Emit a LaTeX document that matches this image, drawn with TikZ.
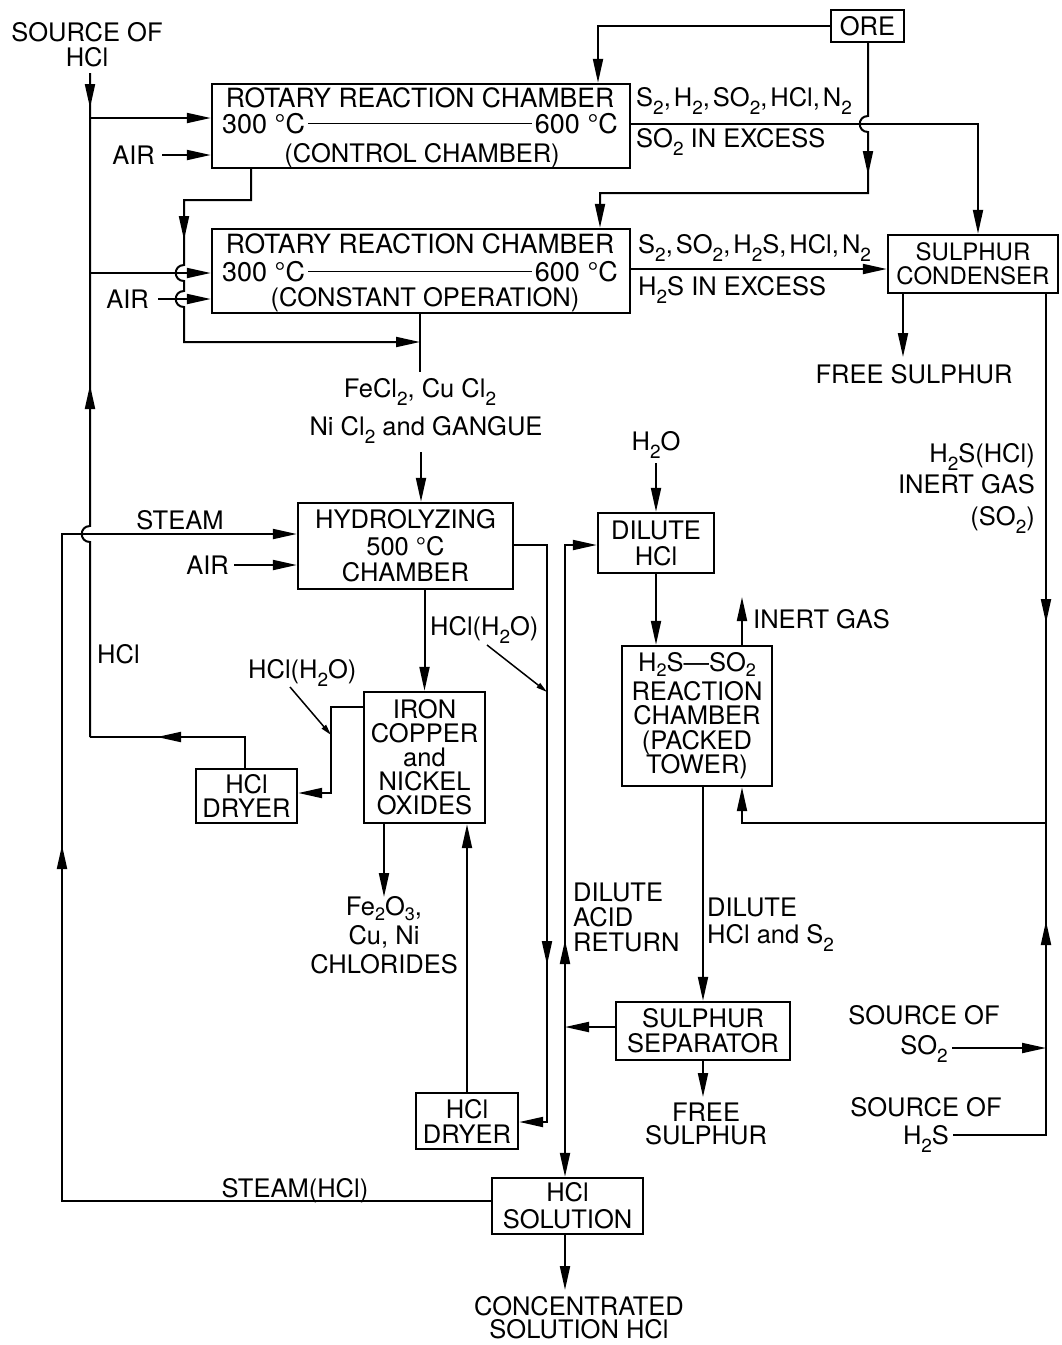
\documentclass[tikz,border=0pt]{standalone}
\usepackage{fontspec}
\setmainfont{TeX Gyre Heros}
\usetikzlibrary{arrows.meta}
\newcommand\lo[1]{\raisebox{-0.32em}{\fontsize{19}{19}\selectfont #1}}
\newcommand\los[1]{\raisebox{-0.2em}{\fontsize{18}{18}\selectfont #1}}
\newcommand\lbl{\fontsize{25.5}{25}\selectfont}
\newcommand\cm{,\kern3pt}
\begin{document}
\begin{tikzpicture}[x=1pt,y=-1pt,
  every node/.style={inner sep=0pt, font=\lbl},
  box/.style={draw, line width=2.4pt, align=center},
  ln/.style={line width=2pt},
  arr/.style={line width=2pt, -{Triangle[length=24pt,width=10pt]}},
  midarr/.style={line width=2pt, -{Triangle[length=24pt,width=10pt]}},
  lead/.style={line width=1.5pt, -{Triangle[length=11pt,width=5.5pt]}}]
\useasboundingbox (0,0) rectangle (1062,1345);

% ---------- boxes ----------
\node[box, minimum width=73pt, minimum height=32pt] (ore) at (867.5,26) {ORE};
\node[box, minimum width=418pt, minimum height=84pt] (r1) at (421,126) {};
\node[box, minimum width=418pt, minimum height=84pt] (r2) at (421,271) {};
\node[box, minimum width=170pt, minimum height=58pt, font=\fontsize{24}{24}\selectfont] (cond) at (973,264) {SULPHUR\\CONDENSER};
\node[box, minimum width=215pt, minimum height=86pt, font=\fontsize{25.5}{26.5}\selectfont] (hyd) at (405.5,546) {HYDROLYZING\\500 °C\\CHAMBER};
\node[box, minimum width=121pt, minimum height=131pt, font=\fontsize{25.5}{24}\selectfont] (iron) at (424.5,757.5) {IRON\\COPPER\\and\\NICKEL\\OXIDES};
\node[box, minimum width=101pt, minimum height=54pt, font=\fontsize{25.5}{23.5}\selectfont] (dry1) at (246.5,796) {HCl\\DRYER};
\node[box, minimum width=102pt, minimum height=56pt] (dry2) at (467,1121) {HCl\\DRYER};
\node[box, minimum width=116pt, minimum height=60pt, font=\fontsize{25.5}{26}\selectfont] (dil) at (656,543) {DILUTE\\HCl};
\node[box, minimum width=150pt, minimum height=140pt, font=\fontsize{25.5}{24.5}\selectfont] (react) at (697,716) {H\los{2}S—SO\los{2}\\[4pt]REACTION\\CHAMBER\\(PACKED\\TOWER)};
\node[box, minimum width=174pt, minimum height=58pt] (sep) at (703,1031) {SULPHUR\\SEPARATOR};
\node[box, minimum width=151pt, minimum height=56pt, font=\fontsize{25.5}{27}\selectfont] (sol) at (567.5,1206) {HCl\\SOLUTION};

% ---------- rotary chamber texts ----------
\node[anchor=base, font=\fontsize{26.5}{26}\selectfont] (r1t) at (420,107) {ROTARY REACTION CHAMBER};
\node[anchor=base west, font=\fontsize{27}{27}\selectfont] (r1lo) at (222,133) {300 °C};
\node[anchor=base east, font=\fontsize{27}{27}\selectfont] (r1hi) at (618,133) {600 °C};
\draw[line width=1.3pt] ([xshift=3pt]r1lo.east) -- ([xshift=-3pt]r1hi.west);
\node[anchor=base] (r1b) at (422,162) {(CONTROL CHAMBER)};
\node[anchor=base, font=\fontsize{26.5}{26}\selectfont] (r2t) at (420,253) {ROTARY REACTION CHAMBER};
\node[anchor=base west, font=\fontsize{27}{27}\selectfont] (r2lo) at (222,281) {300 °C};
\node[anchor=base east, font=\fontsize{27}{27}\selectfont] (r2hi) at (618,281) {600 °C};
\draw[line width=1.3pt] ([xshift=3pt]r2lo.east) -- ([xshift=-3pt]r2hi.west);
\node[anchor=base] (r2b) at (425,306) {(CONSTANT OPERATION)};

% ---------- other labels ----------
\node[align=center] (srchcl) at (87,45) {SOURCE OF\\HCl};
\node[anchor=east] (air1) at (155,155) {AIR};
\node[anchor=east] (air2) at (149,299) {AIR};
\node[anchor=base west] (o1a) at (636,106) {S\lo{2}\cm H\lo{2}\cm SO\lo{2}\cm HCl\cm N\lo{2}};
\node[anchor=base west] (o1b) at (636,147) {SO\lo{2} IN EXCESS};
\node[anchor=base west] (o2a) at (638,253) {S\lo{2}\cm SO\lo{2}\cm H\lo{2}S\cm HCl\cm N\lo{2}};
\node[anchor=base west] (o2b) at (638,295) {H\lo{2}S IN EXCESS};
\node[anchor=base] (fs1) at (914,383) {FREE SULPHUR};
\node[anchor=base] (fecl1) at (420,397) {FeCl\lo{2}, Cu Cl\lo{2}};
\node[anchor=base] (fecl2) at (426,435) {Ni Cl\lo{2} and GANGUE};
\node[anchor=north east, align=right, font=\fontsize{25.5}{31.5}\selectfont] (h2shcl) at (1035,443) {H\lo{2}S(HCl)\\INERT GAS\\(SO\lo{2})};
\node[anchor=base] (steam) at (180,529) {STEAM};
\node[anchor=east] (air3) at (229,565) {AIR};
\node[anchor=base west] (hclw1) at (430,635) {HCl(H\lo{2}O)};
\node[anchor=base west] (hcl) at (97,663) {HCl};
\node[anchor=base west] (hclw2) at (248,678) {HCl(H\lo{2}O)};
\node[align=center, font=\fontsize{25.5}{29}\selectfont] (oxid) at (384,935) {Fe\los{2}O\los{3},\\Cu, Ni\\CHLORIDES};
\node[anchor=north west, align=left] (dar) at (573,883) {DILUTE\\ACID\\RETURN};
\node[anchor=north west, align=left, font=\fontsize{25.5}{27}\selectfont] (dhs) at (707,898) {DILUTE\\HCl and S\lo{2}};
\node[anchor=base west] (inert) at (753,628) {INERT GAS};
\node[anchor=base] (h2o) at (656,450) {H\lo{2}O};
\node[align=center, font=\fontsize{25.5}{23.5}\selectfont] (fs2) at (706,1124) {FREE\\SULPHUR};
\node[align=center, font=\fontsize{25.5}{30}\selectfont] (srcso2) at (924,1034) {SOURCE OF\\SO\lo{2}};
\node[align=center, font=\fontsize{25.5}{28}\selectfont] (srch2s) at (926,1125) {SOURCE OF\\H\lo{2}S};
\node[anchor=base] (steamhcl) at (295,1197) {STEAM(HCl)};
\node[align=center, font=\fontsize{25.5}{23}\selectfont] (conc) at (579,1318) {CONCENTRATED\\SOLUTION HCl};

% ---------- coordinates ----------
\coordinate (hTop) at (90,73);
\coordinate (hJ1) at (90,118);
\coordinate (hJ2) at (90,273);
\coordinate (hBot) at (90,737);
\coordinate (f1) at (251,200);
\coordinate (f2) at (184,200);
\coordinate (f3) at (184,342);
\coordinate (f4) at (420,342);
\coordinate (g1) at (420,372);
\coordinate (hIn) at (421,452);
\coordinate (i1) at (598,26);
\coordinate (j1) at (868,193);
\coordinate (j2) at (600,193);
\coordinate (k1) at (978,124);
\coordinate (l1) at (760,269);
\coordinate (m1) at (903,357);
\coordinate (n1) at (1046,823);
\coordinate (n2) at (742,823);
\coordinate (o0) at (953,1135);
\coordinate (o1) at (1046,1135);
\coordinate (p0) at (952,1048);
\coordinate (q1) at (742,597);
\coordinate (w0) at (656,463);
\coordinate (u1) at (703,1097);
\coordinate (v1) at (565,1027);
\coordinate (v2) at (565,545);
\coordinate (y1) at (547,545);
\coordinate (y2) at (547,1122);
\coordinate (aa1) at (331,707);
\coordinate (aa2) at (331,793);
\coordinate (ab1) at (245,737);
\coordinate (ac1) at (384,897);
\coordinate (ae1) at (62,1201);
\coordinate (ae2) at (62,534);
\coordinate (af1) at (565,1290);
\coordinate (ld1) at (487,645);
\coordinate (ld1e) at (547,692);
\coordinate (ld2) at (290,687);
\coordinate (ld2e) at (331,735);

% ---------- connectors ----------
% HCl main line (hops over STEAM line)
\draw[ln] (hTop) -- (90,526) .. controls (79,526) and (79,542) .. (90,542) -- (hBot);
\draw[midarr] (90,80) -- (90,108);
\draw[midarr] (90,412) -- (90,385);
\draw[arr] (hJ1) -- (r1.west |- hJ1);
\draw[arr] ([xshift=7pt]air1.east) -- (r1.west |- air1.east);
\draw[arr] (hJ2) -- (r2.west |- hJ2);
\draw[arr] ([xshift=9pt]air2.east) -- (r2.west |- air2.east);
% control chamber -> line to FeCl2 stream
\draw[arr] (r1.south -| f1) -- (f1) -- (f2) -- (184,265) .. controls (173,265) and (173,281) .. (184,281)
  -- (184,291) .. controls (173,291) and (173,307) .. (184,307) -- (f3) -- (f4);
\draw[midarr] (184,212) -- (184,240);
\draw[ln] (r2.south -| f4) -- (g1);
\draw[arr] (hIn) -- (hyd.north -| hIn);
% ore
\draw[arr] (ore.west) -- (i1) -- (r1.north -| i1);
\draw[arr] (ore.south -| j1) -- (868,116) .. controls (857,116) and (857,132) .. (868,132) -- (j1) -- (j2) -- (r2.north -| j2);
\draw[midarr] (868,148) -- (868,175);
% gas outputs
\draw[arr] (r1.east |- k1) -- (k1) -- (cond.north -| k1);
\draw[arr] (r2.east |- l1) -- (cond.west |- l1);
\draw[arr] (cond.south -| m1) -- (m1);
% right loop
\draw[ln] (cond.south -| n1) -- (n1);
\draw[midarr] (1046,596) -- (1046,623);
\draw[arr] (n1) -- (n2) -- (react.south -| n2);
\draw[ln] (o0) -- (o1) -- (n1);
\draw[midarr] (1046,948) -- (1046,921);
\draw[arr] (p0) -- (p0 -| n1);
\draw[arr] (react.north -| q1) -- (q1);
% dilute HCl / reaction / separator
\draw[arr] (w0) -- (dil.north -| w0);
\draw[arr] (dil.south -| w0) -- (react.north -| w0);
\draw[arr] (react.south -| sep.north) -- (sep.north);
\draw[arr] (sep.south) -- (u1);
\draw[arr] (sep.west |- v1) -- (v1);
\draw[arr] (v1) -- (v2) -- (dil.west |- v2);
\draw[midarr] (565,966) -- (565,940);
\draw[arr] (v1) -- (sol.north -| v1);
% hydrolyzing inputs and outputs
\draw[arr] ([xshift=5pt]air3.east) -- (hyd.west |- air3.east);
\draw[arr] (hyd.east |- y1) -- (y1) -- (y2) -- (dry2.east |- y2);
\draw[midarr] (547,938) -- (547,965);
\draw[arr] (hyd.south -| iron.north) -- (iron.north);
\draw[arr] (iron.west |- aa1) -- (aa1) -- (aa2) -- (dry1.east |- aa2);
\draw[ln] (dry1.north -| ab1) -- (ab1) -- (hBot);
\draw[midarr] (184,737) -- (157,737);
\draw[arr] (iron.south -| ac1) -- (ac1);
\draw[arr] (dry2.north) -- (iron.south -| dry2.north);
% steam loop
\draw[arr] (sol.west |- ae1) -- (ae1) -- (ae2) -- (hyd.west |- ae2);
\draw[midarr] (62,872) -- (62,845);
\draw[arr] (sol.south -| af1) -- (af1);
% leaders
\draw[lead] (ld1) -- (ld1e);
\draw[lead] (ld2) -- (ld2e);
\end{tikzpicture}
\end{document}
